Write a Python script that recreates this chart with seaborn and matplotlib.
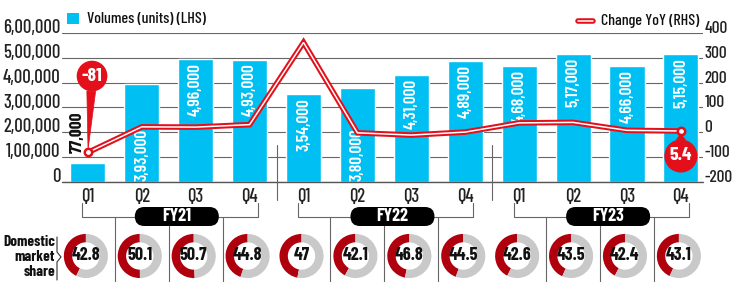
import numpy as np
import pandas as pd
import seaborn as sns
import matplotlib.pyplot as plt
from matplotlib.patches import FancyBboxPatch, Rectangle

# ---------------------------------------------------------------
# data
# ---------------------------------------------------------------
quarters = ['Q1', 'Q2', 'Q3', 'Q4'] * 3
fiscal_years = ['FY21'] * 4 + ['FY22'] * 4 + ['FY23'] * 4
volumes = [77000, 393000, 496000, 493000, 354000, 380000,
           431000, 489000, 468000, 517000, 466000, 515000]
yoy_change = [-81, 22, 21, 31, 362, -2, -11, 1, 38, 40, 8, 5.4]
market_share = [42.8, 50.1, 50.7, 44.8, 47, 42.1, 46.8, 44.5, 42.6, 43.5, 42.4, 43.1]

CYAN = '#00BFF2'
RED = '#E3101B'
DARK_RED = '#B0000D'
GREY = '#C9C9C9'
LINE_GREY = '#666666'


def indian_format(n):
    s = str(int(n))
    if len(s) <= 3:
        return s
    head, tail = s[:-3], s[-3:]
    groups = []
    while len(head) > 2:
        groups.insert(0, head[-2:])
        head = head[:-2]
    if head:
        groups.insert(0, head)
    return ','.join(groups + [tail])


df = pd.DataFrame({
    'periodo': [f'{q} {fy}' for q, fy in zip(quarters, fiscal_years)],
    'volumen': volumes,
    'cambio': yoy_change,
})
df['idx'] = np.arange(len(df))

sns.set_style('white')
plt.rcParams['font.family'] = ['Barlow Condensed', 'DejaVu Sans']

W, H = 733, 282
fig = plt.figure(figsize=(W / 100, H / 100), dpi=100)

# main axes (bars + grid)
ax = fig.add_axes([62 / W, 100 / H, 641 / W, 149 / H])
sns.barplot(data=df, x='periodo', y='volumen', color=CYAN, saturation=1,
            width=0.65, ax=ax, zorder=2)
ax.set_xlim(-0.48, 11.41)
ax.set_ylim(0, 600000)
ax.set_xlabel('')
ax.set_ylabel('')
for s in ax.spines.values():
    s.set_visible(False)
ax.set_yticks(range(0, 600001, 100000))
ax.set_yticklabels([indian_format(v) for v in range(0, 600001, 100000)])
ax.yaxis.grid(True, color=LINE_GREY, lw=0.8)
ax.axhline(0, color='#555555', lw=1, clip_on=False, zorder=3)
ax.set_axisbelow(True)
ax.set_xticks(range(12))
ax.set_xticklabels(quarters)
ax.tick_params(axis='y', length=0, pad=1, labelsize=13.5, colors='#222222')
ax.tick_params(axis='x', length=0, pad=4, labelsize=13.5, colors='#222222')
for lbl in ax.get_yticklabels():
    lbl.set_va('baseline')
    lbl.set_fontweight('medium')
for lbl in ax.get_xticklabels():
    lbl.set_fontweight('medium')

# bar value labels
placement = ['above', 'bottom', 'top', 'top', 'top', 'bottom',
             'top', 'top', 'top', 'top', 'top', 'top']
for i, (v, where) in enumerate(zip(volumes, placement)):
    txt = indian_format(v)
    if where == 'top':
        ax.annotate(txt, (i, v), xytext=(0, -3), textcoords='offset points',
                    rotation=90, ha='center', va='top', color='white',
                    fontsize=12.5, fontweight='semibold', zorder=4)
    elif where == 'bottom':
        ax.annotate(txt, (i, 0), xytext=(0, 1), textcoords='offset points',
                    rotation=90, ha='center', va='bottom', color='white',
                    fontsize=12.5, fontweight='semibold', zorder=4)
    else:
        ax.annotate(txt, (i, v), xytext=(-8, 7), textcoords='offset points',
                    rotation=90, ha='center', va='bottom', color='#111111',
                    fontsize=12.5, fontweight='bold', zorder=4)

# YoY line on the right axis
ax2 = ax.twinx()
sns.lineplot(data=df, x='idx', y='cambio', color=RED, lw=4.0, ax=ax2,
             solid_joinstyle='miter', zorder=5)
sns.lineplot(data=df, x='idx', y='cambio', color='white', lw=1.1, ax=ax2,
             solid_joinstyle='miter', zorder=6)
ends = df.iloc[[0, -1]]
ax2.scatter(ends['idx'], ends['cambio'], s=28, facecolor='white',
            edgecolor=RED, linewidth=1.8, zorder=7)
ax2.set_ylim(-200, 400)
ax2.set_xlim(-0.48, 11.41)
ax2.set_yticks(range(-200, 401, 100))
ax2.set_yticklabels([str(v) for v in range(-200, 401, 100)])
ax2.tick_params(axis='y', length=0, pad=1, labelsize=12.5, colors='#222222')
for lbl in ax2.get_yticklabels():
    lbl.set_va('baseline')
    lbl.set_fontweight('medium')
ax2.set_ylabel('')
for s in ax2.spines.values():
    s.set_visible(False)

# callout pins
pin = dict(arrowstyle='wedge,tail_width=0.45,shrink_factor=0.5', fc=RED, ec=RED,
           lw=0.5, shrinkA=0, shrinkB=2)
ax2.annotate('-81', (0, yoy_change[0]), xytext=(3, 55), textcoords='offset points',
             ha='center', va='center', color='white', fontsize=14, fontweight='bold',
             bbox=dict(boxstyle='circle,pad=0.22', fc=RED, ec=RED),
             arrowprops=pin, zorder=8)
ax2.annotate('5.4', (11, yoy_change[-1]), xytext=(0, -18), textcoords='offset points',
             ha='center', va='center', color='white', fontsize=14, fontweight='bold',
             bbox=dict(boxstyle='circle,pad=0.24', fc=RED, ec=RED),
             arrowprops=pin, zorder=8)

# overlay in pixel coordinates for legends, brackets and the share row
ov = fig.add_axes([0, 0, 1, 1])
ov.set_xlim(0, W)
ov.set_ylim(H, 0)
ov.axis('off')

xs = ax.transData.transform(np.c_[np.arange(12), np.zeros(12)])[:, 0]
unit = xs[1] - xs[0]


def px(i):
    return xs[0] + i * unit


# legends
ov.add_patch(Rectangle((67, 13), 12, 11, fc=CYAN, ec='none'))
ov.text(87, 19, 'Volumes (units) (LHS)', fontsize=11.5, va='center', ha='left',
        color='#111111', fontweight='medium')
ov.plot([578, 593], [21, 21], color=RED, lw=4.0, solid_capstyle='round')
ov.plot([578, 593], [21, 21], color='white', lw=1.1, solid_capstyle='round')
ov.text(601, 21, 'Change YoY (RHS)', fontsize=11.5, va='center', ha='left',
        color='#111111', fontweight='medium')

# fiscal-year separators running from the plot into the labels
for b in (3.5, 7.5):
    ov.plot([px(b), px(b)], [145, 200], color=LINE_GREY, lw=0.8)

# brackets + pills
for g, fy in enumerate(['FY21', 'FY22', 'FY23']):
    first, last = 4 * g, 4 * g + 3
    x0, x1 = px(first - 0.1), px(last + 0.15)
    ov.plot([x0, x0, x1, x1], [203, 217, 217, 203], color=LINE_GREY, lw=0.8)
    for k in range(3):
        xm = px(first + k + 0.5)
        ov.plot([xm, xm], [217, H], color=LINE_GREY, lw=0.8)
    cx = px(first + 1.65)
    ov.add_patch(FancyBboxPatch((cx - 42, 207), 84, 19,
                                boxstyle='round,pad=0,rounding_size=9.5',
                                fc='black', ec='none', zorder=5))
    ov.text(cx, 216.5, fy, color='white', fontsize=13, fontweight='bold',
            ha='center', va='center', zorder=6)

# domestic market share label
ov.text(55, 257, 'Domestic\nmarket\nshare', ha='right', va='center', fontsize=11,
        fontweight='bold', linespacing=1.05, color='#111111')
ov.plot([57, 57, 61, 57, 57], [237, 252, 257, 262, 280], color='#333333', lw=0.8)

# donuts
r = 22.5
cy = 256
for i, share in enumerate(market_share):
    cx = xs[i] - 2
    dax = fig.add_axes([(cx - r) / W, (H - cy - r) / H, 2 * r / W, 2 * r / H])
    dax.pie([share, 100 - share], colors=[DARK_RED, GREY], startangle=90,
            counterclock=True, wedgeprops=dict(width=0.38, edgecolor='none'))
    dax.set_xlim(-1.02, 1.02)
    dax.set_ylim(-1.02, 1.02)
    dax.text(0, 0, f'{share:g}', ha='center', va='center', fontsize=13,
             fontweight='bold', color='#111111')

fig.savefig('out.png', dpi=100)
